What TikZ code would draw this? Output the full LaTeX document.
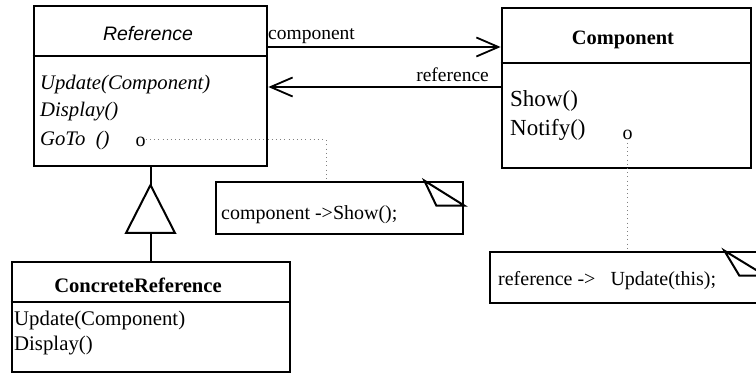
\documentclass[tikz,border=0pt]{standalone}
\usepackage{fontspec}
\setmainfont{Liberation Serif}
\setsansfont{Liberation Sans}
\usetikzlibrary{arrows.meta}
\begin{document}
\begin{tikzpicture}[x=1pt,y=-1pt,
  classbox/.style={draw, line width=2.7pt, inner sep=0pt},
  notebox/.style={draw, line width=2.7pt, inner sep=0pt},
  divider/.style={line width=2.5pt},
  fold/.style={line width=2pt, line join=miter},
  txt/.style={inner sep=0pt, anchor=base west, font=\fontsize{20.8}{24}\selectfont},
  bigtxt/.style={txt, font=\fontsize{23}{26}\selectfont},
  itxt/.style={txt, font=\fontsize{20.7}{24}\selectfont\itshape},
  notetxt/.style={txt, font=\fontsize{20}{24}\selectfont},
  title/.style={inner sep=0pt, anchor=base, font=\fontsize{20.6}{24}\selectfont\bfseries},
  lbl/.style={inner sep=0pt, font=\fontsize{19.5}{24}\selectfont},
  assoc/.style={line width=1.8pt, -{Straight Barb[length=22pt,width=19pt,line width=1.8pt]}},
  inherit/.style={line width=2pt},
  dotline/.style={gray, line width=1pt, dash pattern=on 1pt off 3.2pt}
]
\useasboundingbox (0,0) rectangle (756,377);
\clip (0,0) rectangle (756,377);

% class boxes
\node[classbox, minimum width=233pt, minimum height=160pt] (ref) at (150.5,86) {};
\node[classbox, minimum width=249pt, minimum height=160pt] (comp) at (626.5,88) {};
\node[classbox, minimum width=278pt, minimum height=110pt] (cref) at (151,317) {};

% compartment dividers
\draw[divider] (ref.west |- 0,56) -- (ref.east |- 0,56);
\draw[divider] (comp.west |- 0,63) -- (comp.east |- 0,63);
\draw[divider] (cref.west |- 0,302) -- (cref.east |- 0,302);

% Reference (abstract)
\node[inner sep=0pt, anchor=base, font=\fontsize{19.5}{24}\selectfont\sffamily\itshape] (refname) at (148,41) {Reference};
\node[itxt] (refop1) at (40,90) {Update(Component)};
\node[itxt] (refop2) at (40,117) {Display()};
\node[itxt] (refop3) at (40,146) {GoTo\ \ ()};
\node[inner sep=0pt, anchor=base, font=\fontsize{20}{24}\selectfont] (gotodot) at (140.5,146.5) {o};

% Component
\node[title, font=\fontsize{20.4}{24}\selectfont\bfseries] (compname) at (623,45) {Component};
\node[bigtxt] (compop1) at (510,107) {Show()};
\node[bigtxt] (compop2) at (510,136) {Notify()};
\node[inner sep=0pt, anchor=base, font=\fontsize{20}{24}\selectfont] (notifydot) at (627.5,139.5) {o};

% ConcreteReference
\node[title] (crefname) at (138,293) {ConcreteReference};
\node[txt] (crefop1) at (14,325) {Update(Component)};
\node[txt] (crefop2) at (14,350) {Display()};

% associations
\draw[assoc] (ref.east |- 0,47) -- (comp.west |- 0,47);
\node[lbl, anchor=base west] (complbl) at (268,40) {component};
\draw[assoc] (comp.west |- 0,87) -- (ref.east |- 0,87);
\node[lbl, anchor=base east] (reflbl) at (489,82) {reference};

% generalization
\coordinate (apex) at (150.5,185);
\coordinate (baseL) at (126,233);
\coordinate (baseR) at (175,233);
\coordinate (baseM) at (150.5,233);
\draw[inherit] (ref.south -| apex) -- (apex);
\draw[inherit, line join=miter] (apex) -- (baseL) -- (baseR) -- cycle;
\draw[inherit] (baseM) -- (cref.north -| baseM);

% notes
\node[notebox, minimum width=247pt, minimum height=52pt] (note1) at (339.5,208) {};
\draw[fold] ([xshift=-40pt]note1.north east) -- ++(12,25) -- ([yshift=-25pt]note1.north east) -- cycle;
\node[notetxt] (note1txt) at (221,220) {component ->Show();};

\node[notebox, minimum width=274pt, minimum height=51pt] (note2) at (627,277.5) {};
\draw[fold] ([xshift=-41pt]note2.north east) -- ++(15,25) -- ([yshift=-25pt]note2.north east) -- cycle;
\node[notetxt] (note2txt) at (498,285) {reference ->\hspace{15pt}Update(this);};

% note attachments
\coordinate (bend1) at (326,140);
\draw[dotline] (gotodot.east |- bend1) -- (bend1) -- (bend1 |- note1.north);
\draw[dotline] (notifydot.south) ++(0,3) -- (notifydot.south |- note2.north);
\end{tikzpicture}
\end{document}
